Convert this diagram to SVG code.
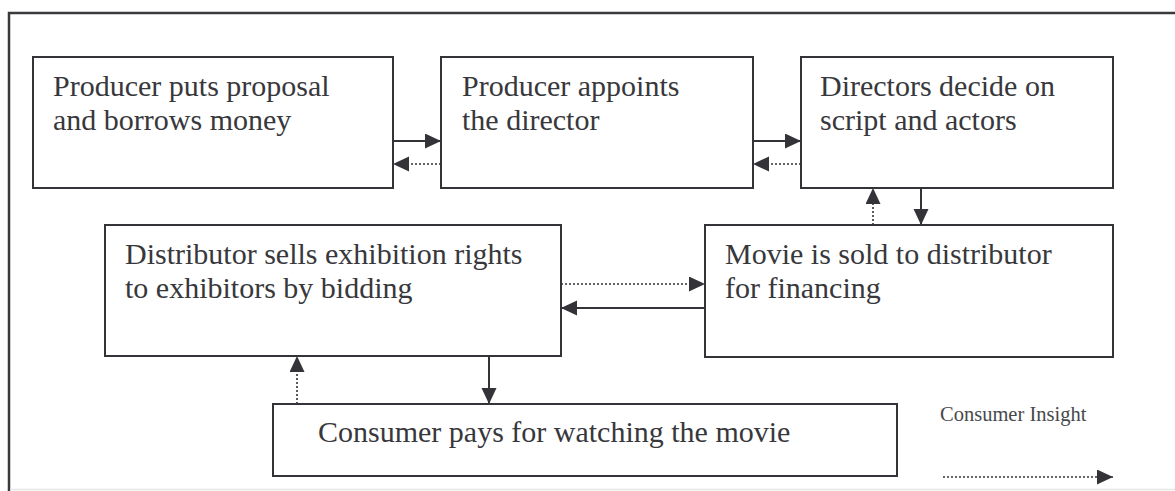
<svg xmlns="http://www.w3.org/2000/svg" width="1175" height="491" viewBox="0 0 1175 491">
<defs>
<style>
.box{fill:#fff;stroke:#333338;stroke-width:2}
.t{font-family:"Liberation Serif","Times New Roman",serif;font-size:30px;fill:#38383c}
.lg{font-family:"Liberation Serif","Times New Roman",serif;font-size:20.5px;fill:#48484c}
.solid{stroke:#333338;stroke-width:2;fill:none}
.dot{stroke:#333338;stroke-width:1.6;stroke-dasharray:2 2;fill:none}
</style>
<marker id="ah" markerUnits="userSpaceOnUse" markerWidth="18" markerHeight="16" refX="16" refY="7.5" orient="auto">
<path d="M0,0 L16,7.5 L0,15 z" fill="#333338"/>
</marker>
</defs>
<rect width="1175" height="491" fill="#fff"/>
<g id="frame">
<path d="M9,491 V13 H1175" fill="none" stroke="#3a3a3e" stroke-width="2.5"/>
<line x1="10" y1="489.5" x2="1175" y2="489.5" stroke="#e6e6e6" stroke-width="1.5"/>
</g>
<g id="n1">
<rect class="box" x="33" y="57" width="360" height="131"/>
<text class="t" x="53" y="96">Producer puts proposal</text>
<text class="t" x="53" y="130">and borrows money</text>
</g>
<g id="n2">
<rect class="box" x="441" y="57" width="312" height="131"/>
<text class="t" x="462" y="96">Producer appoints</text>
<text class="t" x="462" y="130">the director</text>
</g>
<g id="n3">
<rect class="box" x="801" y="57" width="312" height="131"/>
<text class="t" x="820" y="96">Directors decide on</text>
<text class="t" x="820" y="130">script and actors</text>
</g>
<g id="n4">
<rect class="box" x="105" y="225" width="456" height="131"/>
<text class="t" x="125" y="264">Distributor sells exhibition rights</text>
<text class="t" x="125" y="298">to exhibitors by bidding</text>
</g>
<g id="n5">
<rect class="box" x="705" y="225" width="408" height="132"/>
<text class="t" x="725" y="264">Movie is sold to distributor</text>
<text class="t" x="725" y="298">for financing</text>
</g>
<g id="n6">
<rect class="box" x="273" y="404" width="624" height="72"/>
<text class="t" x="318" y="442">Consumer pays for watching the movie</text>
</g>
<g id="legend">
<text class="lg" x="940" y="421">Consumer Insight</text>
<line class="dot" x1="943" y1="477" x2="1113" y2="477" marker-end="url(#ah)"/>
</g>
<g id="connectors">
<line class="solid" x1="393" y1="141" x2="441" y2="141" marker-end="url(#ah)"/>
<line class="dot" x1="441" y1="164" x2="393" y2="164" marker-end="url(#ah)"/>
<line class="solid" x1="753" y1="141" x2="801" y2="141" marker-end="url(#ah)"/>
<line class="dot" x1="801" y1="164" x2="753" y2="164" marker-end="url(#ah)"/>
<line class="solid" x1="921" y1="188" x2="921" y2="225" marker-end="url(#ah)"/>
<line class="dot" x1="873" y1="225" x2="873" y2="188" marker-end="url(#ah)"/>
<line class="dot" x1="561" y1="284" x2="705" y2="284" marker-end="url(#ah)"/>
<line class="solid" x1="705" y1="308" x2="561" y2="308" marker-end="url(#ah)"/>
<line class="solid" x1="489" y1="356" x2="489" y2="404" marker-end="url(#ah)"/>
<line class="dot" x1="297" y1="404" x2="297" y2="356" marker-end="url(#ah)"/>
</g>
</svg>
